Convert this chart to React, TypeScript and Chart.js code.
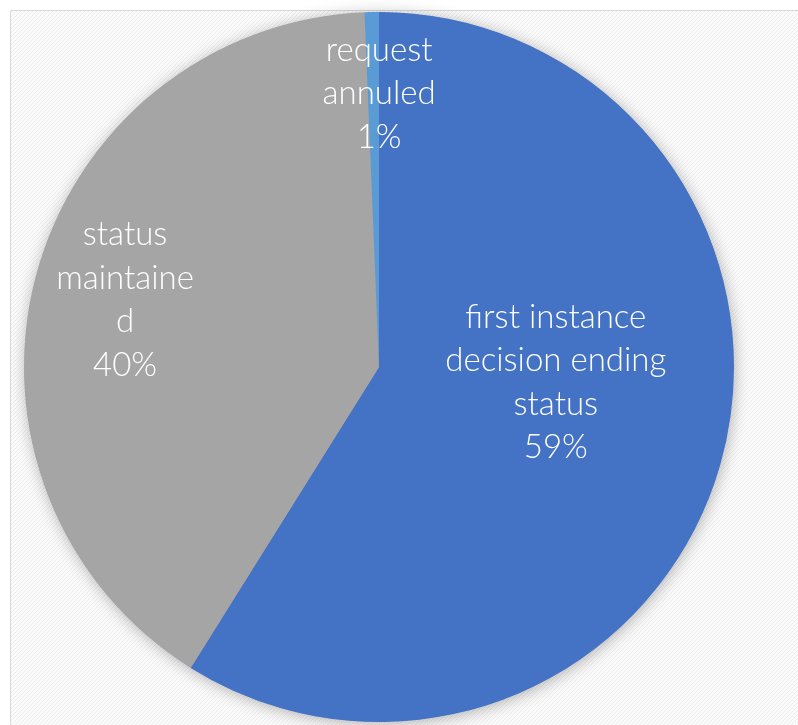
import React, { useEffect, useRef } from "react";
import { Chart, registerables } from "chart.js";

Chart.register(...registerables);

const categories = ["first instance decision ending status", "status maintained", "request annuled"];
const labelLines = [
  ["first instance", "decision ending", "status"],
  ["status", "maintaine", "d"],
  ["request", "annuled"],
];
const values = [58.9, 40.45, 0.65];
const colors = ["#4472C4", "#A5A5A5", "#5B9BD5"];
const labelRadius = [0.5, 0.74, 0.77];
const labelAngleShift = [-11, 0, 1.2];

const framePlugin = {
  id: "frame",
  beforeDraw(chart: any) {
    const ctx = chart.ctx;
    ctx.save();
    ctx.fillStyle = "#ffffff";
    ctx.fillRect(0, 0, chart.width, chart.height);
    const tile = document.createElement("canvas");
    tile.width = 4;
    tile.height = 4;
    const t = tile.getContext("2d")!;
    t.fillStyle = "#fbfbfb";
    t.fillRect(0, 0, 4, 4);
    t.fillStyle = "#ececec";
    for (let i = 0; i < 4; i++) t.fillRect(i, 3 - i, 1, 1);
    const pat = ctx.createPattern(tile, "repeat");
    ctx.fillStyle = pat;
    ctx.fillRect(11, 11, chart.width, chart.height);
    ctx.strokeStyle = "#d9d9d9";
    ctx.lineWidth = 1;
    ctx.beginPath();
    ctx.moveTo(10.5, chart.height + 2);
    ctx.lineTo(10.5, 10.5);
    ctx.lineTo(chart.width + 2, 10.5);
    ctx.stroke();
    ctx.restore();
  },
  beforeDatasetsDraw(chart: any) {
    const meta = chart.getDatasetMeta(0);
    const arc = meta.data[0];
    if (!arc) return;
    const { x, y, outerRadius } = arc.getProps(["x", "y", "outerRadius"], true);
    const ctx = chart.ctx;
    ctx.save();
    ctx.shadowColor = "rgba(0,0,0,0.3)";
    ctx.shadowBlur = 16;
    ctx.shadowOffsetX = 1;
    ctx.shadowOffsetY = 2;
    ctx.fillStyle = "#A5A5A5";
    ctx.beginPath();
    ctx.arc(x, y, outerRadius - 0.5, 0, Math.PI * 2);
    ctx.fill();
    ctx.restore();
  },
  afterDatasetsDraw(chart: any) {
    const meta = chart.getDatasetMeta(0);
    const ctx = chart.ctx;
    const total = values.reduce((a, b) => a + b, 0);
    ctx.save();
    ctx.fillStyle = "#ffffff";
    ctx.textAlign = "center";
    ctx.textBaseline = "middle";
    ctx.font = "300 33px Lato, 'Open Sans', sans-serif";
    const lh = 43.5;
    meta.data.forEach((arc: any, i: number) => {
      const p = arc.getProps(["x", "y", "startAngle", "endAngle", "outerRadius"], true);
      const mid = (p.startAngle + p.endAngle) / 2 + (labelAngleShift[i] * Math.PI) / 180;
      const r = p.outerRadius * labelRadius[i];
      const cx = p.x + Math.cos(mid) * r;
      const cy = p.y + Math.sin(mid) * r;
      const lines = [...labelLines[i], Math.round((values[i] / total) * 100) + "%"];
      const y0 = cy - ((lines.length - 1) * lh) / 2;
      lines.forEach((ln, k) => ctx.fillText(ln, cx, y0 + k * lh));
    });
    ctx.restore();
  },
};

export default function App() {
  const ref = useRef<HTMLCanvasElement>(null);
  useEffect(() => {
    const chart = new Chart(ref.current!, {
      type: "pie",
      data: {
        labels: categories,
        datasets: [
          {
            data: values,
            backgroundColor: colors,
            borderWidth: 0,
          },
        ],
      },
      options: {
        animation: false,
        responsive: false,
        layout: { padding: { left: 24, right: 64, top: 12, bottom: 3 } },
        plugins: { legend: { display: false }, tooltip: { enabled: false } },
      },
      plugins: [framePlugin],
    });
    return () => chart.destroy();
  }, []);
  return (
    <div style={{ position: "absolute", left: 0, top: 0, width: 798, height: 725 }}>
      <canvas ref={ref} width={798} height={725} style={{ display: "block" }} />
    </div>
  );
}
